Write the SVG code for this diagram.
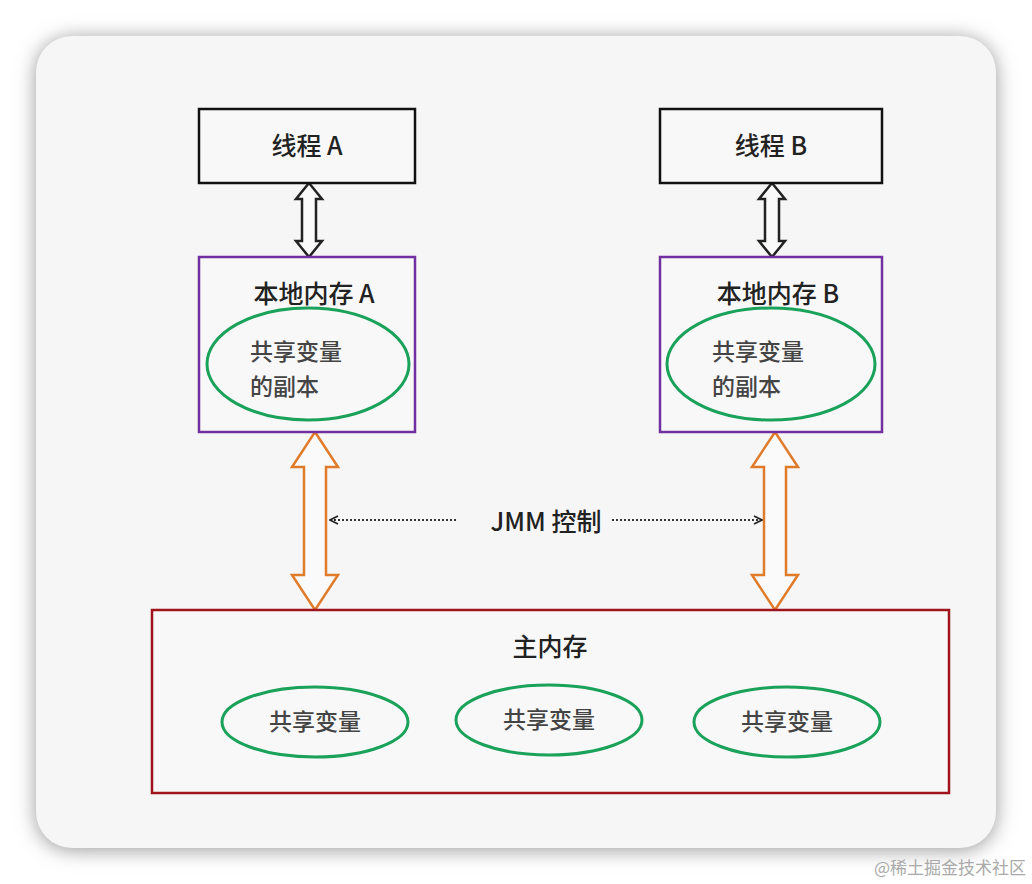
<svg xmlns="http://www.w3.org/2000/svg" width="1032" height="884" viewBox="0 0 1032 884">
<defs>
<filter id="sh" x="-10%" y="-10%" width="120%" height="120%"><feGaussianBlur stdDeviation="10"/></filter>
<marker id="ah" viewBox="0 0 10 10" refX="9" refY="5" markerWidth="10" markerHeight="10" orient="auto-start-reverse" markerUnits="userSpaceOnUse"><path d="M1,1 L9,5 L1,9" fill="none" stroke="#222" stroke-width="1.6"/></marker>
</defs>
<style>
text{font-family:"Noto Sans CJK SC","Noto Sans",sans-serif;fill:#222}
.t{font-size:25px;font-weight:500}
.s{font-size:23px;fill:#444;font-weight:500}
.e{fill:none;stroke:#1aa25a;stroke-width:3}
.ba{fill:#fafafa;stroke:#222;stroke-width:2.5}
.oa{fill:#fafafa;stroke:#e07b2a;stroke-width:2.5}
</style>
<rect width="1032" height="884" fill="#fff"/>
<rect x="36" y="38" width="960" height="812" rx="36" fill="#999" filter="url(#sh)"/>
<rect x="36" y="36" width="960" height="812" rx="36" fill="#f6f6f6"/>
<g id="connectors">
<path class="ba" d="M309,183 L322,199 L316,199 L316,241 L322,241 L309,257 L296,241 L302,241 L302,199 L296,199 Z"/>
<path class="ba" d="M772,183 L785,199 L779,199 L779,241 L785,241 L772,257 L759,241 L765,241 L765,199 L759,199 Z"/>
<path class="oa" d="M315,432 L338,467 L326,467 L326,575 L338,575 L315,610 L292,575 L304,575 L304,467 L292,467 Z"/>
<path class="oa" d="M775,432 L798,467 L786,467 L786,575 L798,575 L775,610 L752,575 L764,575 L764,467 L752,467 Z"/>
<line x1="330" y1="520" x2="458" y2="520" stroke="#333" stroke-width="2" stroke-dasharray="2,2" marker-start="url(#ah)"/>
<line x1="612" y1="520" x2="762" y2="520" stroke="#333" stroke-width="2" stroke-dasharray="2,2" marker-end="url(#ah)"/>
<text x="546" y="531" class="t" text-anchor="middle">JMM 控制</text>
</g>
<g id="threadA"><rect x="199" y="109" width="216" height="74" fill="#f8f8f8" stroke="#111" stroke-width="2.5"/><text x="307" y="155" class="t" text-anchor="middle">线程 A</text></g>
<g id="threadB"><rect x="660" y="109" width="222" height="74" fill="#f8f8f8" stroke="#111" stroke-width="2.5"/><text x="771" y="155" class="t" text-anchor="middle">线程 B</text></g>
<g id="localA"><rect x="199" y="257" width="216" height="175" fill="#f8f8f8" stroke="#7030a0" stroke-width="2.5"/><text x="314" y="303" class="t" text-anchor="middle">本地内存 A</text>
<ellipse cx="308" cy="364" rx="101" ry="56" class="e"/><text x="250" y="360" class="s">共享变量</text><text x="250" y="395" class="s">的副本</text></g>
<g id="localB"><rect x="660" y="257" width="222" height="175" fill="#f8f8f8" stroke="#7030a0" stroke-width="2.5"/><text x="778" y="303" class="t" text-anchor="middle">本地内存 B</text>
<ellipse cx="771" cy="364" rx="104" ry="56" class="e"/><text x="712" y="360" class="s">共享变量</text><text x="712" y="395" class="s">的副本</text></g>
<g id="main"><rect x="152" y="610" width="797" height="183" fill="#f8f8f8" stroke="#a0141e" stroke-width="2.5"/><text x="550" y="656" class="t" text-anchor="middle">主内存</text>
<ellipse cx="315" cy="722" rx="93" ry="35" class="e"/><text x="315" y="730" class="s" text-anchor="middle">共享变量</text>
<ellipse cx="549" cy="720" rx="93" ry="35" class="e"/><text x="549" y="728" class="s" text-anchor="middle">共享变量</text>
<ellipse cx="787" cy="722" rx="93" ry="35" class="e"/><text x="787" y="730" class="s" text-anchor="middle">共享变量</text></g>
<text x="1026" y="874" text-anchor="end" style="font-size:17px;fill:#aaa">@稀土掘金技术社区</text>
</svg>
